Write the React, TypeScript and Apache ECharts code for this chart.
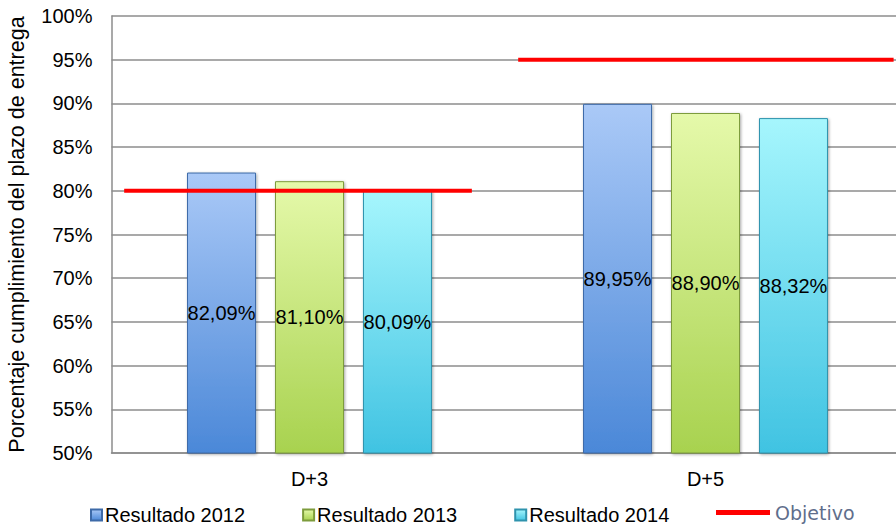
import React, { useEffect, useRef } from "react";
import * as echarts from "echarts";

const categories = ["D+3", "D+5"];
const seriesNames = ["Resultado 2012", "Resultado 2013", "Resultado 2014"];
const values2012 = [82.09, 89.95];
const values2013 = [81.1, 88.9];
const values2014 = [80.09, 88.32];
const objetivo = [80, 95];
const objetivoName = "Objetivo";
const yAxisTitle = "Porcentaje cumplimiento del plazo de entrega";

const FONT = "'Liberation Sans', Arial, sans-serif";

const grad = (top: string, bottom: string, edge: string) => ({
  color: new echarts.graphic.LinearGradient(0, 0, 0, 1, [
    { offset: 0, color: top },
    { offset: 1, color: bottom },
  ]),
  borderColor: edge,
  borderWidth: 1,
  shadowColor: "rgba(0,0,0,0.35)",
  shadowBlur: 3,
  shadowOffsetX: 1,
  shadowOffsetY: 1,
});

const barStyles = [
  grad("#aac9f7", "#4b88d8", "#3d6aa8"),
  grad("#e5f9aa", "#a8d24f", "#7d9c3c"),
  grad("#a6f6fd", "#40c3e2", "#2f93ad"),
];

// horizontal extent of each objective line, as fraction of the category band
const objectiveSpans = [
  [-0.468, 0.41],
  [-0.473, 0.475],
];

export default function App() {
  const ref = useRef<HTMLDivElement>(null);
  useEffect(() => {
    if (!ref.current) return;
    const chart = echarts.init(ref.current, undefined, { renderer: "svg" });
    const fmt = (v: number) => v.toFixed(2).replace(".", ",") + "%";
    const seriesData = [values2012, values2013, values2014];
    const option: any = {
      animation: false,
      backgroundColor: "#ffffff",
      grid: {
        left: 111.5,
        top: 16,
        right: -7.5,
        bottom: 76,
        containLabel: false,
        outerBoundsMode: "none",
      },
      xAxis: {
        type: "category",
        data: categories,
        axisLine: { show: true, lineStyle: { color: "#8c8c8c", width: 1.5 } },
        axisTick: { show: false },
        axisLabel: { fontFamily: FONT, fontSize: 20, color: "#000", margin: 16 },
      },
      yAxis: {
        type: "value",
        min: 50,
        max: 100,
        interval: 5,
        name: yAxisTitle,
        nameLocation: "middle",
        nameGap: 84,
        nameTextStyle: { fontFamily: FONT, fontSize: 21.5, color: "#000" },
        axisLine: { show: true, lineStyle: { color: "#8c8c8c", width: 1.5 } },
        axisTick: { show: false },
        axisLabel: {
          fontFamily: FONT,
          fontSize: 20,
          color: "#000",
          margin: 19,
          formatter: (v: number) => v + "%",
        },
        splitLine: { show: true, lineStyle: { color: "#8c8c8c", width: 1.5 } },
      },
      legend: [
        {
          data: seriesNames.map((n) => ({ name: n, icon: "rect" })),
          left: 90,
          top: 505,
          padding: 0,
          itemWidth: 11,
          itemHeight: 11,
          itemGap: 57,
          textStyle: { fontFamily: FONT, fontSize: 20, color: "#000", padding: [0, 0, 0, -2] },
          selectedMode: false,
        },
        {
          data: [{ name: objetivoName, icon: "rect" }],
          left: 716,
          top: 503,
          padding: 0,
          itemWidth: 54,
          itemHeight: 5,
          textStyle: { fontFamily: "'DejaVu Sans', sans-serif", fontSize: 19, color: "#5f6e8c" },
          selectedMode: false,
        },
      ],
      series: [
        ...seriesNames.map((name, i) => ({
          name,
          type: "bar",
          data: seriesData[i],
          barWidth: 69,
          barGap: "27.5%",
          itemStyle: barStyles[i],
          label: {
            show: true,
            position: "inside",
            fontFamily: FONT,
            fontSize: 20,
            color: "#000",
            formatter: (p: any) => fmt(p.value),
          },
        })),
        {
          name: objetivoName,
          type: "custom",
          data: objetivo.map((v, i) => [i, v]),
          encode: { x: 0, y: 1 },
          itemStyle: { color: "#ff0000" },
          z: 10,
          clip: false,
          renderItem: (params: any, api: any) => {
            const idx = api.value(0);
            const c = api.coord([idx, api.value(1)]);
            const bw = api.size([1, 0])[0];
            const span = objectiveSpans[params.dataIndex];
            return {
              type: "line",
              shape: { x1: c[0] + span[0] * bw, y1: c[1], x2: c[0] + span[1] * bw, y2: c[1] },
              style: { stroke: "#ff0000", lineWidth: 4 },
            };
          },
        },
      ],
    };
    chart.setOption(option);
    return () => chart.dispose();
  }, []);
  return (
    <div
      ref={ref}
      style={{ position: "fixed", left: 0, top: 0, width: 896, height: 529, background: "#fff" }}
    />
  );
}
